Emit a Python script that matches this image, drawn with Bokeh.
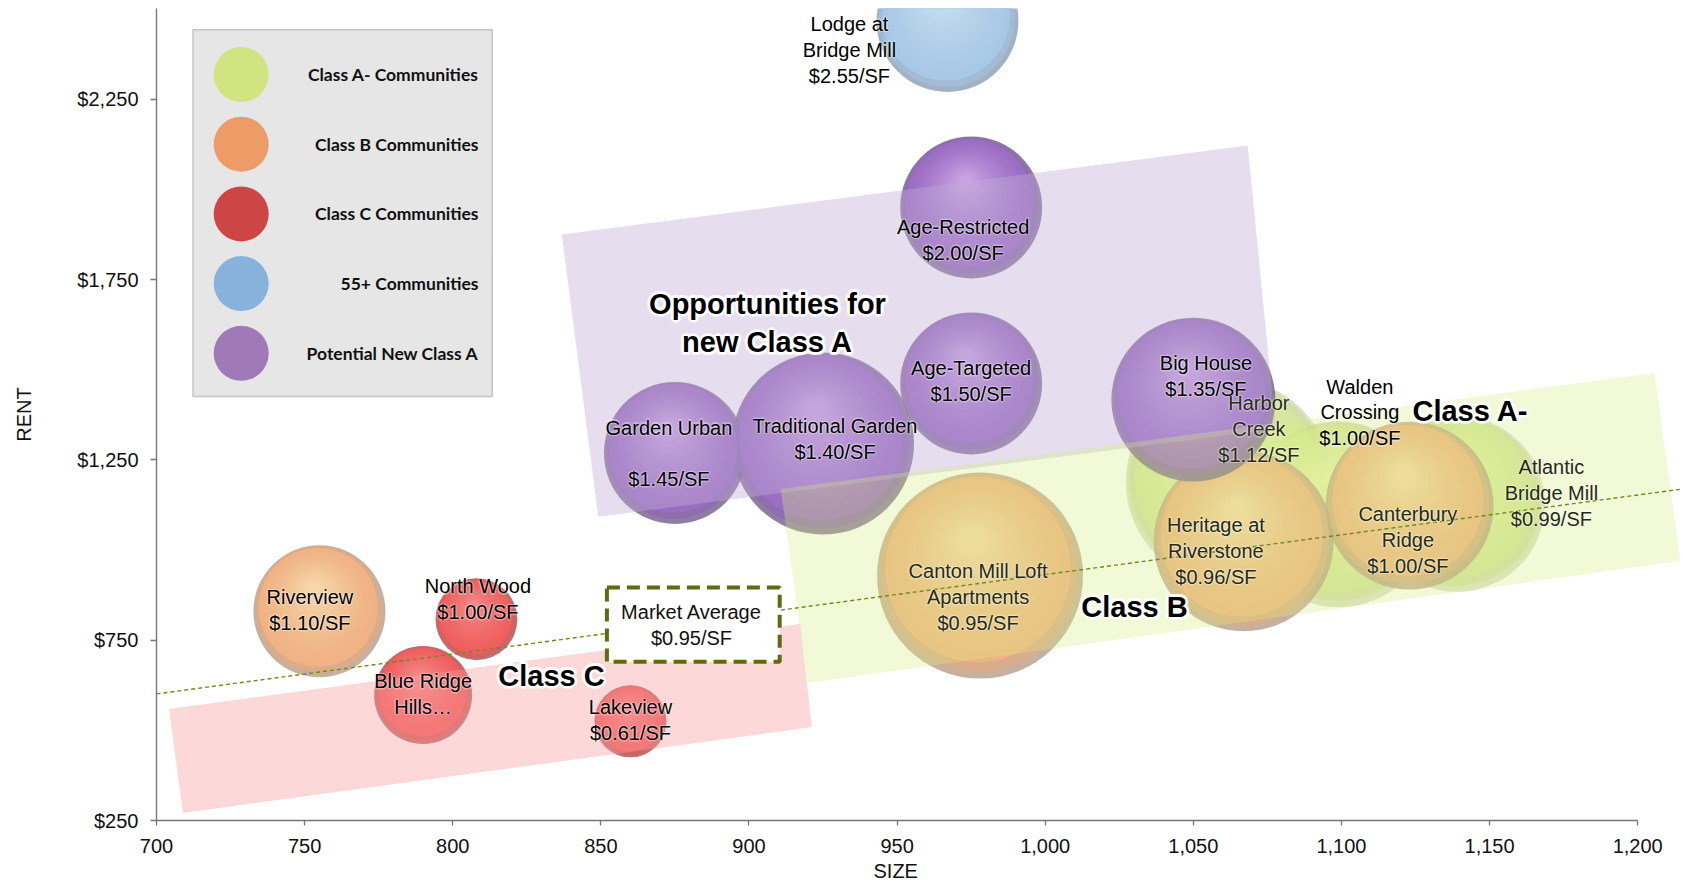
import math
from bokeh.plotting import figure
from bokeh.models import FixedTicker, NumeralTickFormatter, Title
from bokeh.core.properties import value
from bokeh.embed import file_html
from bokeh.resources import INLINE

# ---------------- data ----------------
names = ["Riverview", "North Wood", "Blue Ridge Hills", "Lakeview",
         "Garden Urban", "Traditional Garden", "Age-Targeted", "Age-Restricted",
         "Lodge at Bridge Mill", "Big House", "Canton Mill Loft Apartments",
         "Heritage at Riverstone", "Harbor Creek", "Walden Crossing",
         "Atlantic Bridge Mill", "Canterbury Ridge"]
groups = ["B", "C", "C", "C",
          "P", "P", "P", "P",
          "55", "P", "B",
          "B", "A", "A",
          "A", "B"]
size_sf = [755, 808, 790, 860, 875, 925, 975, 975, 967, 1050, 978, 1067, 1062, 1099, 1139, 1123]
rent = [830, 808, 598, 525, 1269, 1295, 1462, 1950, 2467, 1417, 929, 1024, 1189, 1099, 1128, 1123]
bubble_size = [436, 168, 240, 130, 504, 828, 504, 504, 504, 672, 1061, 810, 1061, 865, 774, 706]
label_text = ["Riverview\n$1.10/SF", "North Wood\n$1.00/SF", "Blue Ridge\nHills\u2026",
              "Lakeview\n$0.61/SF", "Garden Urban\n\n$1.45/SF", "Traditional Garden\n$1.40/SF",
              "Age-Targeted\n$1.50/SF", "Age-Restricted\n$2.00/SF",
              "Lodge at\nBridge Mill\n$2.55/SF", "Big House\n$1.35/SF",
              "Canton Mill Loft\nApartments\n$0.95/SF", "Heritage at\nRiverstone\n$0.96/SF",
              "Harbor\nCreek\n$1.12/SF", "Walden\nCrossing\n$1.00/SF",
              "Atlantic\nBridge Mill\n$0.99/SF", "Canterbury\nRidge\n$1.00/SF"]

legend_names = ["Class A- Communities", "Class B Communities", "Class C Communities",
                "55+ Communities", "Potential New Class A"]
legend_groups = ["A", "B", "C", "55", "P"]

x_ticks = [700, 750, 800, 850, 900, 950, 1000, 1050, 1100, 1150, 1200]
y_ticks = [250, 750, 1250, 1750, 2250]

trend_x = [700, 1215]
trend_y = [601, 1169]

market_text = "Market Average\n$0.95/SF"
zone_text = ["Opportunities for\nnew Class A", "Class A-", "Class B", "Class C"]

# ---------------- layout ----------------
W, H = 1680, 884
ML, MT = 156, 8
FH = 812
MB = H - MT - FH
MR = 0
FW = W - ML - MR
SY = 0.360657
SX = 2.9624
X0, X1 = 700, 700 + FW / SX
Y0, Y1 = 250, 250 + FH / SY

FONT = "Arial"


def px_x(px):  # canvas pixel -> data x
    return X0 + (px - ML) / SX


def px_y(py):  # canvas pixel -> data y
    return Y1 - (py - MT) / SY


# label offsets (px) relative to bubble centres
label_dx = [-9.5, 1.5, 0, 0, -6, 12, 0, -8, -98, 12.6, -2, -27.8, 30, 21.4, 94.4, -1.7]
label_dy = [-1.3, -19.8, -1, -1, 0.5, -5, -2, 32.4, 29, -23.6, 21.4, 9.7, -52.8, -101.8, -10.8, 34.4]
olive_labels = {"Canton Mill Loft Apartments", "Heritage at Riverstone", "Harbor Creek",
                "Atlantic Bridge Mill", "Canterbury Ridge"}

styles = {
    "A": dict(base="#D8EC92", light="#F8FFC8", dark="#B2BF8A", a0=0.45, a1=0.5, legend="#D2E480"),
    "B": dict(base="#F5B583", light="#FFF3C8", dark="#B89C88", a0=0.8, a1=0.8, legend="#ED9B67"),
    "C": dict(base="#F26060", light="#FFA8A8", dark="#B05858", a0=0.85, a1=0.85, legend="#CD4545"),
    "55": dict(base="#A9CAE8", light="#E4F3FD", dark="#98AABB", a0=0.9, a1=0.9, legend="#86B2DB"),
    "P": dict(base="#9D6EC8", light="#ECCBF8", dark="#7A6790", a0=0.85, a1=0.85, legend="#A079B9"),
}


def mix(c1, c2, t):
    a = [int(c1[i:i + 2], 16) for i in (1, 3, 5)]
    b = [int(c2[i:i + 2], 16) for i in (1, 3, 5)]
    return "#%02x%02x%02x" % tuple(round(a[k] + (b[k] - a[k]) * t) for k in range(3))


p = figure(width=W, height=H, x_range=(X0, X1), y_range=(Y0, Y1),
           output_backend="svg", toolbar_location=None,
           min_border_left=ML, min_border_right=MR, min_border_top=MT, min_border_bottom=MB)
p.xgrid.visible = False
p.ygrid.visible = False
p.outline_line_color = None
p.background_fill_color = "white"

# ---------------- bubbles (3-D shaded look) ----------------
for g in ["A", "B", "C", "55", "P"]:
    st = styles[g]
    idx = [i for i, gg in enumerate(groups) if gg == g]
    xs = [size_sf[i] for i in idx]
    ys = [rent[i] for i in idx]
    rs = [math.sqrt(bubble_size[i] * 10) for i in idx]
    layers = [
        (1.00, 0.00, 0.00, st["dark"], st["a0"]),
        (0.96, 0.03, 0.01, mix(st["dark"], st["base"], 0.6), st["a1"]),
        (0.90, 0.06, 0.02, st["base"], st["a1"]),
    ]
    n = 12
    for k in range(n):
        t = k / (n - 1)
        layers.append((0.82 - 0.72 * t, 0.10 + 0.26 * t, 0.03 + 0.05 * t,
                       mix(st["base"], st["light"], 0.25 + 0.75 * t), 0.13))
    for sc, up, left, col, al in layers:
        p.scatter(x=[x - left * r / SX for x, r in zip(xs, rs)],
                  y=[y + up * r / SY for y, r in zip(ys, rs)],
                  size=[2 * r * sc for r in rs], marker="circle",
                  fill_color=col, fill_alpha=al, line_color=None)

# ---------------- translucent zone bands ----------------
purple_band = [(561.3, 234.0), (1247.2, 144.9), (1275.1, 428.2), (597.8, 516.3)]
green_band = [(780.3, 488.4), (1654.0, 372.4), (1679.7, 560.3), (807.1, 682.6)]
red_band = [(168.5, 708.4), (799.6, 623.6), (811.4, 726.6), (182.5, 812.5)]
for band, col, al in [(purple_band, "#C1ADD5", 0.4), (green_band, "#D6EB7E", 0.32),
                      (red_band, "#FA9E9E", 0.4)]:
    p.patch([px_x(a) for a, b in band], [px_y(b) for a, b in band],
            fill_color=col, fill_alpha=al, line_color=None)

# ---------------- trend line ----------------
p.line(trend_x, trend_y, line_color="#76871E", line_width=1.4, line_dash="4 3")

# ---------------- market average box ----------------
p.quad(left=px_x(606.4), right=px_x(779.2), top=px_y(587.1), bottom=px_y(661.2),
       fill_color="white", line_color="#5F6A12", line_width=4, line_dash="13 7")
p.text(x=[px_x(691)], y=[px_y(624.5)], text=[market_text],
       text_font=value(FONT), text_font_size="20px",
       text_align="center", text_baseline="middle", text_line_height=1.18, text_color="#111111")

# ---------------- bubble labels (with a faint light halo) ----------------
lx = [x + d / SX for x, d in zip(size_sf, label_dx)]
ly = [y - d / SY for y, d in zip(rent, label_dy)]
lcol = ["#262b14" if n in olive_labels else "#000000" for n in names]
for ang in range(0, 360, 45):
    ox, oy = 1.5 * math.cos(math.radians(ang)), 1.5 * math.sin(math.radians(ang))
    p.text(x=lx, y=ly, text=label_text, text_color="white", text_alpha=0.18,
           x_offset=ox, y_offset=oy,
           text_font=value(FONT), text_font_size="20px",
           text_align="center", text_baseline="middle", text_line_height=1.18)
p.text(x=lx, y=ly, text=label_text, text_color=lcol,
       text_font=value(FONT), text_font_size="20px",
       text_align="center", text_baseline="middle", text_line_height=1.18)

# ---------------- bold zone titles with white glow ----------------
zone_px = [(767, 322.5), (1470, 410), (1134, 606), (551, 675)]
zx = [px_x(a) for a, b in zone_px]
zy = [px_y(b) for a, b in zone_px]
for rad in (3.0, 1.8):
    for ang in range(0, 360, 30):
        ox, oy = rad * math.cos(math.radians(ang)), rad * math.sin(math.radians(ang))
        p.text(x=zx, y=zy, text=zone_text, text_color="white", text_alpha=0.6,
               x_offset=ox, y_offset=oy,
               text_font=value(FONT), text_font_style="bold", text_font_size="29px",
               text_align="center", text_baseline="middle", text_line_height=1.2)
p.text(x=zx, y=zy, text=zone_text,
       text_font=value(FONT), text_font_style="bold", text_font_size="29px",
       text_align="center", text_baseline="middle", text_line_height=1.2,
       text_color="black")

# ---------------- legend (drawn box) ----------------
p.quad(left=px_x(192.5), right=px_x(491.7), top=px_y(29.3), bottom=px_y(396),
       fill_color="#E6E6E6", line_color="#C4C4C4", line_width=1.5)
leg_y = [px_y(74 + 69.7 * i) for i in range(len(legend_names))]
p.scatter(x=[px_x(240.7)] * len(legend_names), y=leg_y, size=55, marker="circle",
          fill_color=[styles[g]["legend"] for g in legend_groups], line_color=None)
p.text(x=[px_x(478)] * len(legend_names), y=leg_y, text=legend_names,
       text_font=value("Lato"), text_font_style="bold", text_font_size="17.5px",
       text_align="right", text_baseline="middle", text_color="#111111")

# ---------------- axes ----------------
for ax in (p.xaxis[0], p.yaxis[0]):
    ax.axis_line_color = "#767676"
    ax.axis_line_width = 1.4
    ax.major_tick_line_color = "#767676"
    ax.major_tick_line_width = 1.3
    ax.minor_tick_line_color = None
    ax.major_tick_in = 0
    ax.major_label_text_font = FONT
    ax.major_label_text_font_size = "20px"
    ax.major_label_text_color = "#111111"

xa = p.xaxis[0]
xa.ticker = FixedTicker(ticks=x_ticks)
xa.formatter = NumeralTickFormatter(format="0,0")
xa.bounds = (700, 1200)
xa.major_tick_out = 5
xa.major_label_standoff = 13

ya = p.yaxis[0]
ya.ticker = FixedTicker(ticks=y_ticks)
ya.formatter = NumeralTickFormatter(format="$0,0")
ya.major_tick_out = 6
ya.major_label_standoff = 12
ya.axis_label = "RENT"
ya.axis_label_standoff = 39
ya.axis_label_text_font = FONT
ya.axis_label_text_font_size = "20px"
ya.axis_label_text_font_style = "normal"
ya.axis_label_text_color = "#111111"

# x-axis title as a Title so it can be centred under the 700-1200 span
p.add_layout(Title(text="SIZE", align="left", offset=717, standoff=5,
                   text_font=FONT, text_font_size="20px", text_font_style="normal",
                   text_color="#111111"), "below")

open("out.html", "w").write(file_html(p, INLINE))
